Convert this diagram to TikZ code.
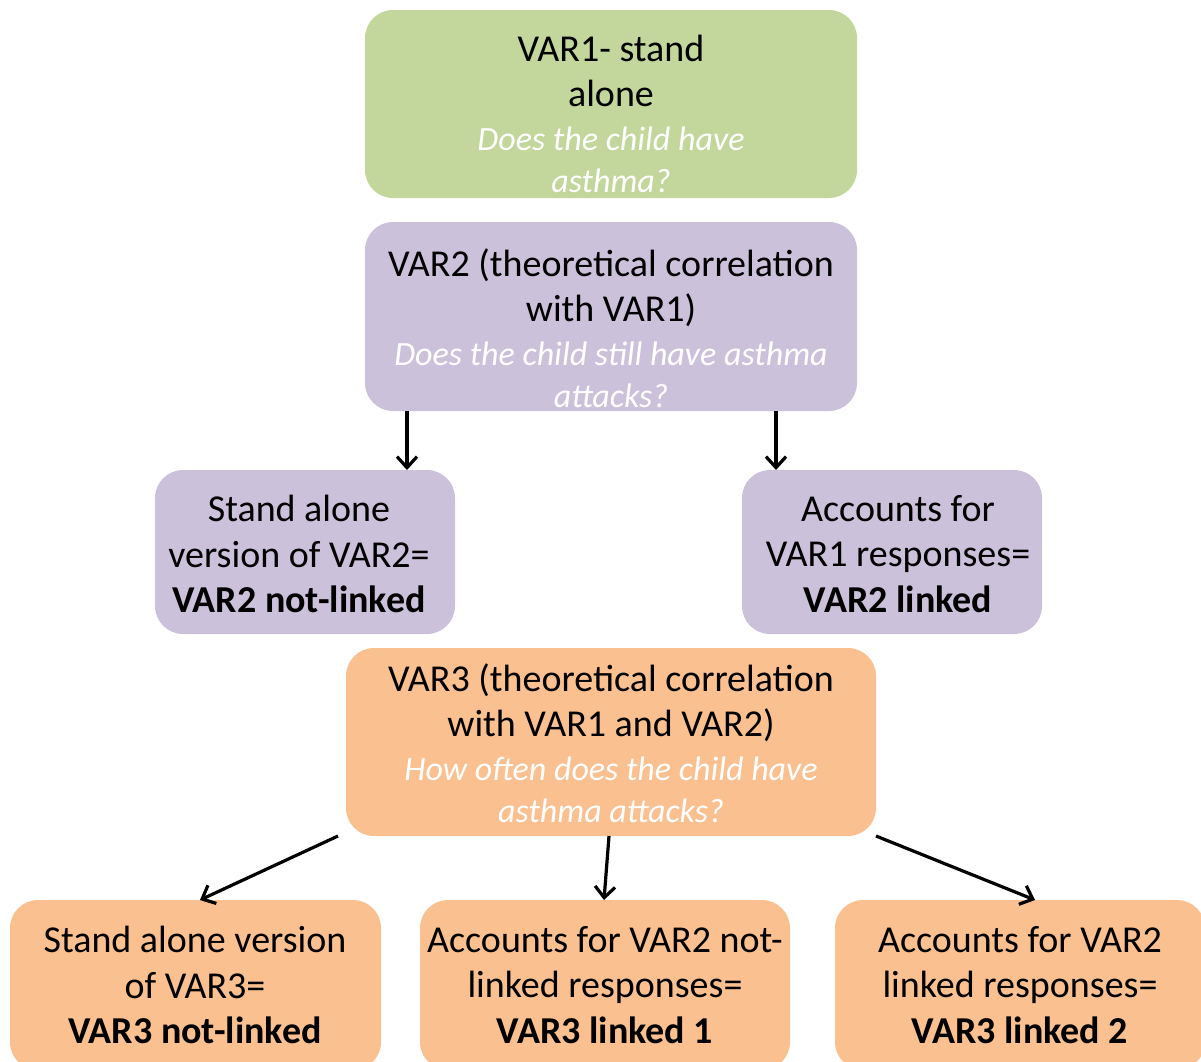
\documentclass[tikz,border=0pt]{standalone}
\usepackage{fontspec}
\setmainfont{Carlito}
\usetikzlibrary{arrows.meta,calc}
\definecolor{cgreen}{HTML}{C3D69B}
\definecolor{cpurple}{HTML}{CCC1DA}
\definecolor{corange}{HTML}{FAC090}
\begin{document}
\begin{tikzpicture}[x=1pt,y=-1pt,
  box/.style={draw=none,rounded corners=28pt,inner sep=0pt,outer sep=0pt},
  gbox/.style={box,fill=cgreen},
  pbox/.style={box,fill=cpurple},
  obox/.style={box,fill=corange},
  main/.style={align=center,font=\fontsize{38}{45.5}\selectfont,text=black,inner sep=0pt},
  quest/.style={align=center,font=\fontsize{34}{42}\selectfont\itshape,text=white,inner sep=0pt},
  arr/.style={line width=3.2pt,-{Straight Barb[length=11pt,width=20pt,line width=3.2pt]}}]
\clip (0,0) rectangle (1201,1061);
\fill[white] (0,0) rectangle (1201,1061);
% boxes
\node[gbox,minimum width=492pt,minimum height=188pt] (v1) at (611,104) {};
\node[pbox,minimum width=492pt,minimum height=189pt] (v2) at (611,316.5) {};
\node[pbox,minimum width=300pt,minimum height=164pt] (l2) at (305,552) {};
\node[pbox,minimum width=300pt,minimum height=164pt] (r2) at (892,552) {};
\node[obox,minimum width=530pt,minimum height=188pt] (v3) at (611,742) {};
\node[obox,minimum width=371pt,minimum height=170pt] (b1) at (195.5,985) {};
\node[obox,minimum width=370pt,minimum height=170pt] (b2) at (605,985) {};
\node[obox,minimum width=370pt,minimum height=170pt] (b3) at (1020,985) {};
% texts
\node[main] (t1) at (611,71) {VAR1- stand\\alone};
\node[quest] (q1) at (611,159.5) {Does the child have\\asthma?};
\node[main] (t2) at (611,287.5) {VAR2 (theoretical correlation\\with VAR1)};
\node[quest] (q2) at (611,375) {Does the child still have asthma\\attacks?};
\node[main] (tl2) at (299,554) {Stand alone\\version of VAR2=\\\textbf{VAR2 not-linked}};
\node[main] (tr2) at (898,554) {Accounts for\\VAR1 responses=\\\textbf{VAR2 linked}};
\node[main] (t3) at (611,702.5) {VAR3 (theoretical correlation\\with VAR1 and VAR2)};
\node[quest] (q3) at (611,790) {How often does the child have\\asthma attacks?};
\node[main] (tb1) at (195,985) {Stand alone version\\of VAR3=\\\textbf{VAR3 not-linked}};
\node[main] (tb2) at (605,985) {Accounts for VAR2 not-\\linked responses=\\\textbf{VAR3 linked 1}};
\node[main] (tb3) at (1020,985) {Accounts for VAR2\\linked responses=\\\textbf{VAR3 linked 2}};
% arrow anchor coordinates
\coordinate (s1) at (407,411);
\coordinate (e1) at (407,469);
\coordinate (s2) at (776,411);
\coordinate (e2) at (776,469);
\coordinate (s3) at (338,836);
\coordinate (e3) at (200,896);
\coordinate (s4) at (609,836);
\coordinate (e4) at (604,896);
\coordinate (s5) at (876,836);
\coordinate (e5) at (1035,896);
\draw[arr] (s1 |- v2.south) -- (e1 |- l2.north);
\draw[arr] (s2 |- v2.south) -- (e2 |- r2.north);
\draw[arr] (s3 |- v3.south) -- (e3 |- b1.north);
\draw[arr] (s4 |- v3.south) -- (e4 |- b2.north);
\draw[arr] (s5 |- v3.south) -- (e5 |- b3.north);
\end{tikzpicture}
\end{document}
